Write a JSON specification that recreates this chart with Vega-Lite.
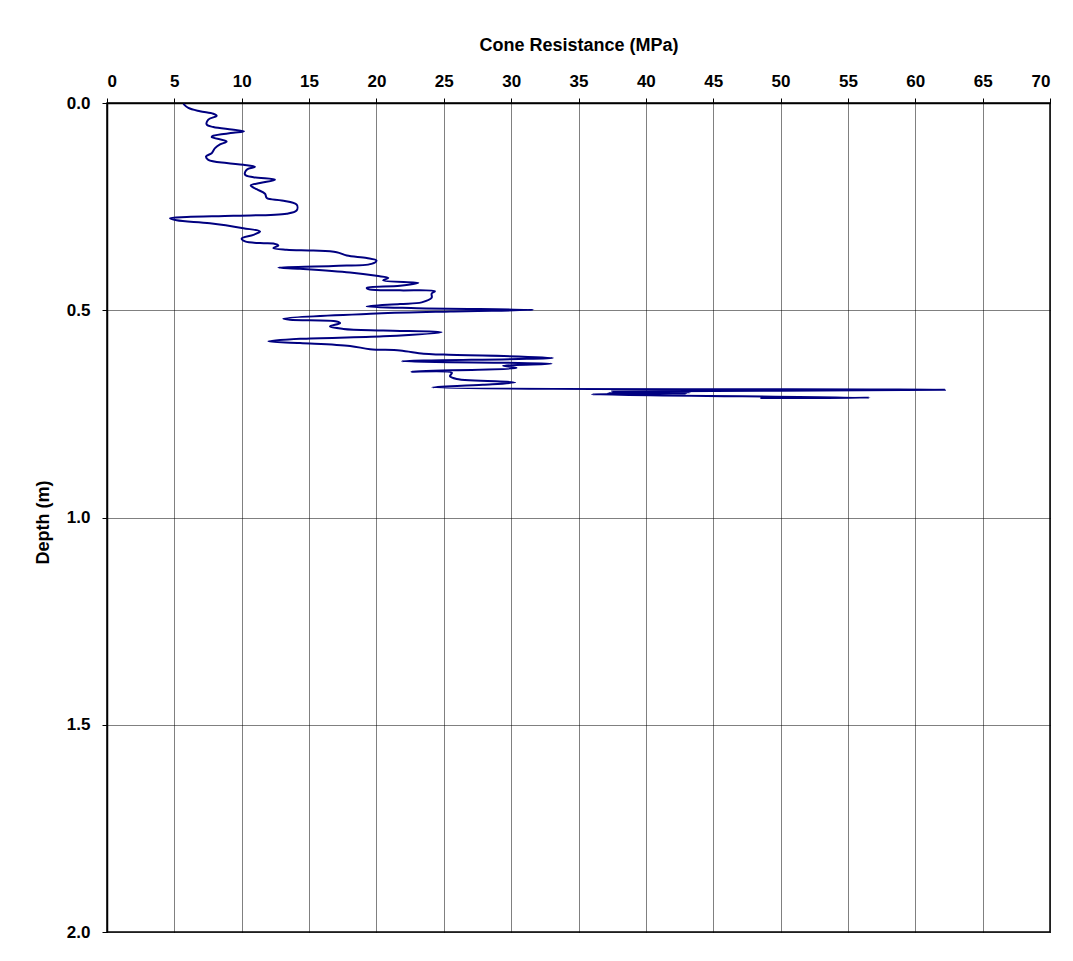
{
  "$schema": "https://vega.github.io/schema/vega-lite/v6.json",
  "width": 943,
  "height": 829,
  "autosize": {"type": "none"},
  "padding": {"left": 107, "top": 103, "right": 23, "bottom": 29},
  "background": "white",
  "config": {
    "font": "Liberation Sans",
    "view": {"stroke": "#000000", "strokeWidth": 1.5}
  },
  "data": {
    "values": [
      {"i":1,"q":5.67,"d":0.002},{"i":2,"q":6.04,"d":0.012},{"i":3,"q":6.9,"d":0.020},{"i":4,"q":7.89,"d":0.026},
      {"i":5,"q":8.14,"d":0.031},{"i":6,"q":7.52,"d":0.040},{"i":7,"q":7.4,"d":0.052},{"i":8,"q":7.89,"d":0.058},
      {"i":9,"q":9.25,"d":0.064},{"i":10,"q":10.17,"d":0.068},{"i":11,"q":9.38,"d":0.072},{"i":12,"q":7.89,"d":0.079},
      {"i":13,"q":7.77,"d":0.082},{"i":14,"q":8.88,"d":0.093},{"i":15,"q":8.39,"d":0.100},{"i":16,"q":8.02,"d":0.109},
      {"i":17,"q":7.77,"d":0.121},{"i":18,"q":7.35,"d":0.129},{"i":19,"q":7.52,"d":0.137},{"i":20,"q":8.88,"d":0.145},
      {"i":21,"q":10.12,"d":0.149},{"i":22,"q":10.99,"d":0.154},{"i":23,"q":10.37,"d":0.161},{"i":24,"q":10.25,"d":0.173},
      {"i":25,"q":10.87,"d":0.179},{"i":26,"q":12.47,"d":0.185},{"i":27,"q":11.36,"d":0.193},{"i":28,"q":10.67,"d":0.199},
      {"i":29,"q":11.11,"d":0.208},{"i":30,"q":11.73,"d":0.219},{"i":31,"q":11.86,"d":0.229},{"i":32,"q":12.97,"d":0.235},
      {"i":33,"q":14.08,"d":0.245},{"i":34,"q":14.08,"d":0.259},{"i":35,"q":13.34,"d":0.267},{"i":36,"q":9.38,"d":0.272},
      {"i":37,"q":5.92,"d":0.275},{"i":38,"q":4.68,"d":0.278},{"i":39,"q":5.17,"d":0.283},{"i":40,"q":7.64,"d":0.290},
      {"i":41,"q":10.12,"d":0.302},{"i":42,"q":11.36,"d":0.310},{"i":43,"q":10.87,"d":0.318},{"i":44,"q":10.0,"d":0.327},
      {"i":45,"q":10.25,"d":0.334},{"i":46,"q":11.36,"d":0.338},{"i":47,"q":12.35,"d":0.339},{"i":48,"q":12.72,"d":0.344},
      {"i":49,"q":12.35,"d":0.350},{"i":50,"q":13.34,"d":0.354},{"i":51,"q":15.32,"d":0.356},{"i":52,"q":17.05,"d":0.360},
      {"i":53,"q":17.8,"d":0.368},{"i":54,"q":19.28,"d":0.374},{"i":55,"q":20.0,"d":0.380},{"i":56,"q":19.63,"d":0.388},
      {"i":57,"q":16.8,"d":0.393},{"i":58,"q":12.72,"d":0.397},{"i":59,"q":14.33,"d":0.400},{"i":60,"q":18.04,"d":0.409},
      {"i":61,"q":20.0,"d":0.417},{"i":62,"q":20.88,"d":0.422},{"i":63,"q":20.5,"d":0.428},{"i":64,"q":23.11,"d":0.434},
      {"i":65,"q":21.75,"d":0.441},{"i":66,"q":19.28,"d":0.446},{"i":67,"q":19.52,"d":0.450},{"i":68,"q":21.75,"d":0.452},
      {"i":69,"q":24.34,"d":0.454},{"i":70,"q":24.1,"d":0.460},{"i":71,"q":24.1,"d":0.470},{"i":72,"q":23.36,"d":0.481},
      {"i":73,"q":21.75,"d":0.485},{"i":74,"q":19.28,"d":0.491},{"i":75,"q":23.0,"d":0.495},{"i":76,"q":31.65,"d":0.499},
      {"i":77,"q":25.5,"d":0.503},{"i":78,"q":20.0,"d":0.508},{"i":79,"q":13.09,"d":0.520},{"i":80,"q":13.58,"d":0.523},
      {"i":81,"q":17.05,"d":0.527},{"i":82,"q":17.3,"d":0.531},{"i":83,"q":16.55,"d":0.539},{"i":84,"q":17.54,"d":0.545},
      {"i":85,"q":20.5,"d":0.549},{"i":86,"q":24.84,"d":0.553},{"i":87,"q":20.5,"d":0.563},{"i":88,"q":14.33,"d":0.569},
      {"i":89,"q":11.98,"d":0.575},{"i":90,"q":14.33,"d":0.579},{"i":91,"q":18.04,"d":0.586},{"i":92,"q":19.52,"d":0.594},
      {"i":93,"q":21.75,"d":0.597},{"i":94,"q":23.5,"d":0.605},{"i":95,"q":24.97,"d":0.607},{"i":96,"q":33.1,"d":0.615},
      {"i":97,"q":21.9,"d":0.623},{"i":98,"q":33.0,"d":0.629},{"i":99,"q":29.4,"d":0.634},{"i":100,"q":30.4,"d":0.639},
      {"i":101,"q":22.6,"d":0.648},{"i":102,"q":25.6,"d":0.651},{"i":103,"q":25.46,"d":0.659},{"i":104,"q":25.96,"d":0.666},
      {"i":105,"q":30.3,"d":0.674},{"i":106,"q":27.9,"d":0.680},{"i":107,"q":24.15,"d":0.686},{"i":108,"q":62.2,"d":0.692},
      {"i":109,"q":37.5,"d":0.696},{"i":110,"q":43.3,"d":0.698},{"i":111,"q":37.2,"d":0.700},{"i":112,"q":43.0,"d":0.701},
      {"i":113,"q":36.0,"d":0.703},{"i":114,"q":56.6,"d":0.711},{"i":115,"q":48.5,"d":0.712}
    ]
  },
  "mark": {"type": "line", "color": "#000080", "strokeWidth": 2, "interpolate": "catmull-rom", "clip": true},
  "encoding": {
    "x": {
      "field": "q", "type": "quantitative",
      "scale": {"domain": [0, 70], "nice": false, "zero": false},
      "axis": {
        "orient": "top",
        "title": "Cone Resistance (MPa)",
        "values": [0,5,10,15,20,25,30,35,40,45,50,55,60,65,70],
        "format": "d",
        "labelFont": "Liberation Sans", "labelFontWeight": "bold", "labelFontSize": 17, "labelColor": "#000000",
        "labelPadding": 8,
        "titleFont": "Liberation Sans", "titleFontWeight": "bold", "titleFontSize": 18, "titleColor": "#000000",
        "titleY": -58, "titleBaseline": "middle",
        "domainColor": "#000000", "domainWidth": 1.5,
        "tickColor": "#000000", "tickSize": 5, "tickWidth": 1,
        "grid": true, "gridColor": "#000000", "gridDash": [1, 1], "gridWidth": 1
      }
    },
    "y": {
      "field": "d", "type": "quantitative",
      "scale": {"domain": [0, 2], "reverse": true, "nice": false, "zero": false},
      "axis": {
        "orient": "left",
        "title": "Depth (m)",
        "values": [0, 0.5, 1.0, 1.5, 2.0],
        "format": ".1f",
        "labelFont": "Liberation Sans", "labelFontWeight": "bold", "labelFontSize": 17, "labelColor": "#000000",
        "labelPadding": 12,
        "titleFont": "Liberation Sans", "titleFontWeight": "bold", "titleFontSize": 18, "titleColor": "#000000",
        "titleX": -64, "titleY": 419, "titleAngle": 270, "titleBaseline": "middle", "titleAlign": "center",
        "domainColor": "#000000", "domainWidth": 1.5,
        "tickColor": "#000000", "tickSize": 5, "tickWidth": 1,
        "grid": true, "gridColor": "#000000", "gridDash": [1, 1], "gridWidth": 1
      }
    },
    "order": {"field": "i", "type": "quantitative"}
  }
}
